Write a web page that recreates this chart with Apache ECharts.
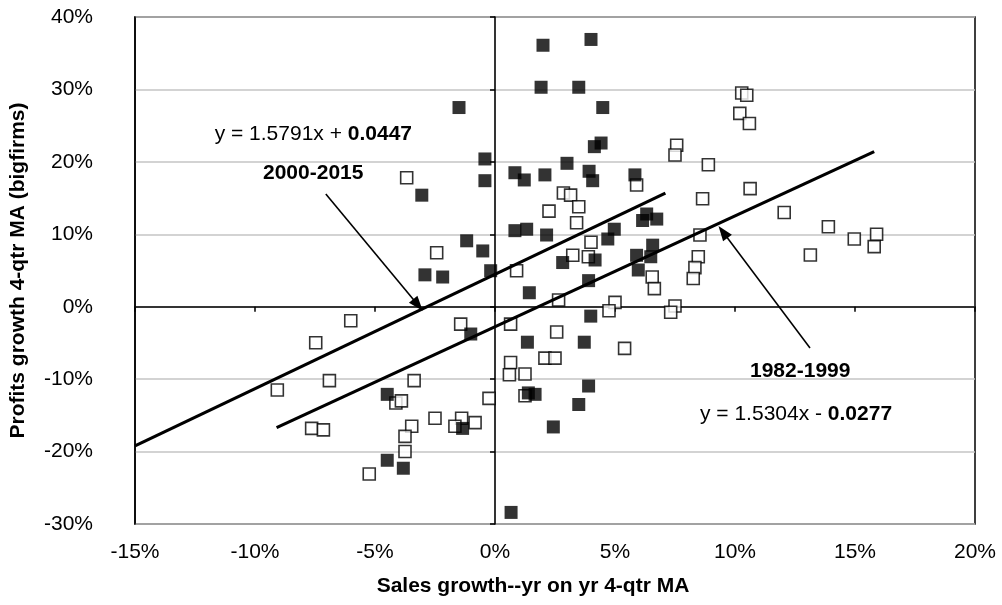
<!DOCTYPE html>
<html>
<head>
<meta charset="utf-8">
<title>Sales growth vs profits growth</title>
<script src="https://cdn.jsdelivr.net/npm/echarts@6/dist/echarts.min.js"></script>
<style>
  html, body { margin: 0; padding: 0; background: #fff; }
  #chart { width: 1002px; height: 605px; }
</style>
</head>
<body>
<div id="chart"></div>
<script>
// Quarterly points: sales growth (x, %) vs profits growth of big firms (y, %), 4-qtr moving averages
const xTicks = [-15, -10, -5, 0, 5, 10, 15, 20];
const yTicks = [-30, -20, -10, 0, 10, 20, 30, 40];

// 2000-2015 (filled squares)
const sales2000 = [2.0, 4.0, 1.92, 3.49, 4.49, -1.5, 4.42, 4.14, -0.42, -0.42, 0.83, 1.22, 2.08, 3.0, 3.92, 4.07, 5.83,
  -3.05, 6.32, 6.15, 6.74, 0.83, 1.32, 2.15, 4.97, 4.7, -1.18, -0.51, 2.82, 4.17, 6.57, 5.9, 6.49, 5.97, -0.18, -2.92,
  -2.18, 1.43, 3.9, 3.99, -1.01, 1.35, 3.72, 1.39, 1.67, 3.9, 3.49, 2.43, 0.67, -1.35, -4.49, -4.49, -3.82];
const profits2000 = [36.1, 36.9, 30.3, 30.3, 27.5, 27.5, 22.6, 22.1, 20.4, 17.4, 18.5, 17.5, 18.2, 19.8, 18.7, 17.4, 18.2,
  15.4, 12.8, 11.9, 12.1, 10.5, 10.7, 9.9, 10.7, 9.35, 9.1, 7.7, 6.1, 6.45, 8.5, 7.1, 6.9, 5.07, 4.97, 4.4,
  4.1, 1.93, 3.6, -1.3, -3.77, -4.9, -4.9, -11.9, -12.1, -10.95, -13.5, -16.6, -28.4, -16.8, -12.1, -21.2, -22.3];

// 1982-1999 (open squares)
const sales1982 = [-3.68, 7.57, 7.5, 5.9, 10.28, 10.49, 10.2, 10.6, 8.89, 10.63, 8.65, 12.05, 13.89, 14.97, 15.9, 15.8,
  13.14, 8.54, 8.47, 8.33, 8.26, 2.85, 3.15, 3.49, 2.25, 3.4, -2.43, 4.0, 3.89, 3.24, 6.55, 6.64, 0.9, 2.65, 5.0, 4.75,
  7.5, 7.32, -1.43, 0.65, 2.57, 5.4, 0.65, 2.08, 2.5, 0.6, 1.25, 1.25, -0.25, -2.5, -1.39, -1.67, -0.83, -9.07, -6.9,
  -7.64, -7.15, -4.13, -3.9, -3.37, -3.47, -3.75, -3.75, -5.24, -6.01, -7.47];
const profits1982 = [17.8, 22.3, 20.95, 16.8, 29.5, 29.2, 26.7, 25.3, 19.6, 16.3, 14.9, 13.0, 11.05, 9.35, 10.0, 8.3,
  7.14, 9.9, 6.9, 5.4, 3.9, 15.7, 15.4, 13.8, 13.2, 11.6, 7.46, 8.9, 6.9, 7.1, 4.1, 2.5, 4.97, 0.93, 0.6, -0.55,
  0.1, -0.77, -2.4, -2.4, -3.5, -5.75, -7.7, -7.1, -7.1, -9.4, -9.3, -12.3, -12.65, -15.4, -15.4, -16.5, -16.0, -11.5, -10.2,
  -16.8, -17.0, -13.3, -13.0, -10.2, -16.5, -17.9, -20.0, -23.1, -1.93, -4.97];

// Linear fits (y = slope * x + intercept, in fractions) and the x span each is drawn over (%)
const periods = ['2000-2015', '1982-1999'];
const trendSlope = [1.5791, 1.5304];
const trendIntercept = [0.0447, -0.0277];
const trendFrom = [-15, -9.1];
const trendTo = [7.1, 15.8];

const zip = (xs, ys) => xs.map((x, i) => [x, ys[i]]);
const trendPoints = i => [trendFrom[i], trendTo[i]].map(x => [x, trendSlope[i] * x + trendIntercept[i] * 100]);
const eqText = i => {
  const sign = trendIntercept[i] < 0 ? '-' : '+';
  return 'y = ' + trendSlope[i].toFixed(4) + 'x ' + sign + ' {b|' + Math.abs(trendIntercept[i]).toFixed(4) + '}';
};

const FONT = 'Liberation Sans, Arial, sans-serif';
const pct = v => v + '%';

const chart = echarts.init(document.getElementById('chart'), null, { renderer: 'canvas' });

const arrowStyle = { color: '#000', width: 1.6, type: 'solid' };

chart.setOption({
  animation: false,
  backgroundColor: '#fff',
  textStyle: { fontFamily: FONT },
  grid: { left: 135, right: 27, top: 17, bottom: 81, show: true, borderColor: '#000', borderWidth: 1.5 },
  xAxis: [
    {
      type: 'value', min: xTicks[0], max: xTicks[xTicks.length - 1], interval: 5,
      axisLine: { show: false, onZero: false },
      axisTick: { show: false },
      splitLine: { show: false },
      axisLabel: { formatter: pct, fontSize: 21, color: '#000', margin: 18, fontFamily: FONT },
      name: 'Sales growth--yr on yr 4-qtr MA',
      nameLocation: 'middle', nameGap: 52,
      nameTextStyle: { fontSize: 21, fontWeight: 'bold', color: '#000', fontFamily: FONT, padding: [0, 44, 0, 0] }
    },
    {
      // horizontal zero line with its tick marks
      type: 'value', min: xTicks[0], max: xTicks[xTicks.length - 1], interval: 5, position: 'bottom',
      axisLine: { show: true, onZero: true, onZeroAxisIndex: 0, lineStyle: { color: '#000', width: 1.6 } },
      axisTick: { show: true, length: 5, lineStyle: { color: '#000', width: 1.5 } },
      axisLabel: { show: false },
      splitLine: { show: false }
    }
  ],
  yAxis: [
    {
      type: 'value', min: yTicks[0], max: yTicks[yTicks.length - 1], interval: 10,
      axisLine: { show: true, onZero: false, lineStyle: { color: '#000', width: 1.5 } },
      axisTick: { show: false },
      splitLine: { show: true, lineStyle: { color: '#c4c4c4', width: 1.5 } },
      axisLabel: { formatter: pct, fontSize: 21, color: '#000', margin: 42, fontFamily: FONT },
      name: 'Profits growth 4-qtr MA (bigfirms)',
      nameLocation: 'middle', nameGap: 106,
      nameTextStyle: { fontSize: 21, fontWeight: 'bold', color: '#000', fontFamily: FONT }
    },
    {
      // vertical zero line with its tick marks
      type: 'value', min: yTicks[0], max: yTicks[yTicks.length - 1], interval: 10, position: 'left',
      axisLine: { show: true, onZero: true, onZeroAxisIndex: 0, lineStyle: { color: '#000', width: 1.6 } },
      axisTick: { show: true, length: 5, lineStyle: { color: '#000', width: 1.5 } },
      axisLabel: { show: false },
      splitLine: { show: false }
    }
  ],
  series: [
    {
      name: periods[1], type: 'scatter', symbol: 'rect', symbolSize: 12,
      data: zip(sales1982, profits1982),
      itemStyle: { color: '#fff', borderColor: '#000', borderWidth: 1.6 },
      z: 3
    },
    {
      name: periods[0], type: 'scatter', symbol: 'rect', symbolSize: 13,
      data: zip(sales2000, profits2000),
      itemStyle: { color: '#000' },
      z: 4
    },
    {
      name: periods[0] + ' fit', type: 'line', data: trendPoints(0), showSymbol: false, symbol: 'none',
      lineStyle: { color: '#000', width: 3.2 }, z: 5
    },
    {
      name: periods[1] + ' fit', type: 'line', data: trendPoints(1), showSymbol: false, symbol: 'none',
      lineStyle: { color: '#000', width: 3.2 }, z: 5,
      // pointer arrows from the period labels to their fitted lines
      markLine: {
        silent: true, symbol: ['none', 'triangle'], symbolSize: [11, 15],
        label: { show: false },
        lineStyle: arrowStyle,
        itemStyle: { color: '#000' },
        data: [
          [{ coord: [-7.05, 15.56] }, { coord: [-3.21, 0.23] }],
          [{ coord: [13.125, -5.7] }, { coord: [9.5, 10.32] }]
        ]
      }
    }
  ],
  graphic: [
    {
      type: 'text', right: 1002 - 412, top: 124, z: 10,
      style: {
        text: eqText(0), fill: '#000', font: '21px ' + FONT,
        rich: { b: { fontWeight: 'bold', fontSize: 21, fontFamily: FONT } }
      }
    },
    {
      type: 'text', left: 263, top: 163, z: 10,
      style: { text: periods[0], fill: '#000', font: 'bold 21px ' + FONT }
    },
    {
      type: 'text', left: 750, top: 361, z: 10,
      style: { text: periods[1], fill: '#000', font: 'bold 21px ' + FONT }
    },
    {
      type: 'text', left: 700, top: 404, z: 10,
      style: {
        text: eqText(1), fill: '#000', font: '21px ' + FONT,
        rich: { b: { fontWeight: 'bold', fontSize: 21, fontFamily: FONT } }
      }
    }
  ]
});
</script>
</body>
</html>
